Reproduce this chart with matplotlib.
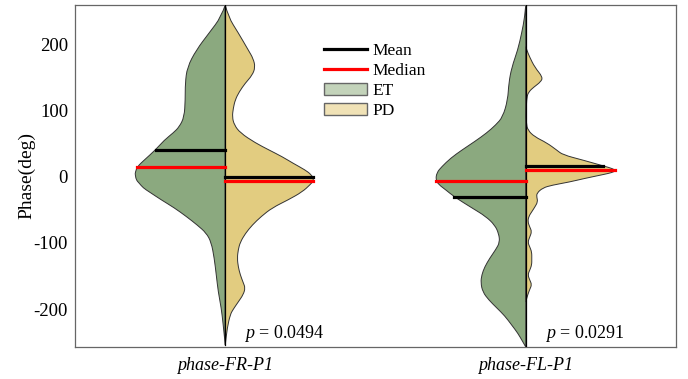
import numpy as np
import matplotlib
matplotlib.use("Agg")
import matplotlib.pyplot as plt
from matplotlib.lines import Line2D
from matplotlib.patches import Patch, PathPatch
from matplotlib.path import Path

plt.rcParams['font.family'] = ['Liberation Serif', 'DejaVu Serif']
plt.rcParams['mathtext.fontset'] = 'custom'
plt.rcParams['mathtext.it'] = 'Liberation Serif:italic'
plt.rcParams['mathtext.rm'] = 'Liberation Serif'

groups = ['phase-FR-P1', 'phase-FL-P1']
p_values = ['0.0494', '0.0291']

# half-violin outlines: phase (deg) and half width (px)
et1_phase = [259, 241, 217, 191, 165, 141, 116, 90, 75, 66, 55, 40, 25, 15, 6, 3,
             -5, -10, -17, -23, -35, -47, -60, -73, -85, -99, -123, -148, -174, -198, -224, -254]
et1_width = [0, 4, 16, 29, 38, 40, 40, 41, 46, 52, 61, 70, 81, 88, 90, 90,
             89, 86, 82, 76, 64, 51, 39, 28, 19, 14, 11, 9, 7, 4, 2, 0]

pd1_phase = [259, 241, 217, 191, 178, 165, 153, 141, 128, 116, 103, 90, 78, 66, 51, 40, 30,
             20, 10, 3, -5, -12, -23, -35, -47, -60, -73, -86, -99, -110, -123, -136, -148,
             -160, -168, -178, -189, -200, -208, -228, -254]
pd1_width = [0, 3, 13, 23, 28, 30, 27, 20, 14, 10, 8, 7, 9, 15, 30, 44, 57,
             68, 80, 86, 89, 85, 77, 63, 47, 36, 27, 20, 15, 13, 12, 13, 15,
             18, 20, 18, 13, 8, 5, 2, 0]

et2_phase = [259, 241, 217, 191, 165, 141, 116, 90, 78, 66, 53, 40, 28, 15, 6, -5, -12,
             -20, -31, -47, -60, -73, -86, -99, -110, -123, -136, -148, -160, -174, -186,
             -198, -210, -224, -236, -249, -257]
et2_width = [0, 1, 4, 8, 14, 17, 18, 23, 30, 39, 51, 64, 75, 84, 89, 90, 87,
             80, 71, 54, 40, 31, 27, 26, 30, 36, 41, 44, 45, 43, 37,
             29, 21, 14, 8, 3, 0]

pd2_phase = [196, 191, 180, 165, 150, 143, 135, 128, 120, 100, 81, 70, 60, 51, 40, 33, 25,
             16, 12, 9, 6, 3, -3, -8, -13, -17, -25, -31, -38, -46, -53, -60, -68, -76, -83,
             -91, -99, -106, -114, -124, -133, -141, -148, -156, -163, -170, -178, -189]
pd2_width = [0, 1, 4, 9, 17, 15, 8, 3, 1, 0.5, 0.5, 2, 9, 21, 31, 37, 57,
             78, 87, 90, 86, 77, 58, 44, 26, 17, 11, 11, 12, 9, 6, 3, 2, 4, 6,
             4, 2, 4, 6, 6, 6, 4, 2, 4, 6, 4, 2, 0]

et_mean = [40.7, -30.6]
et_median = [14.0, -6.0]
pd_mean = [-0.5, 16.5]
pd_median = [-6.5, 10.0]

et_color = '#8ba97f'
pd_color = '#e2cc80'
edge = '#333333'

px_per_unit = 300.5   # half-width pixels -> x data units
positions = [1, 2]


def smooth_half(ax, pos, phase, width, side, color):
    # outline through the read points, rounded with quadratic bezier segments
    y = np.asarray(phase, float)
    x = pos + side * np.asarray(width, float) / px_per_unit
    verts = [(pos, y[0]), (x[0], y[0])]
    codes = [Path.MOVETO, Path.LINETO]
    for k in range(1, len(y) - 1):
        mid = ((x[k] + x[k + 1]) / 2, (y[k] + y[k + 1]) / 2)
        verts += [(x[k], y[k]), mid]
        codes += [Path.CURVE3, Path.CURVE3]
    verts += [(x[-1], y[-1]), (pos, y[-1]), (pos, y[0])]
    codes += [Path.LINETO, Path.LINETO, Path.CLOSEPOLY]
    ax.add_patch(PathPatch(Path(verts, codes), facecolor=color, edgecolor=edge,
                           linewidth=0.7, zorder=2))


def half(v, p, ww):
    return np.interp(v, np.asarray(p, float)[::-1], np.asarray(ww, float)[::-1]) / px_per_unit


fig = plt.figure(figsize=(6.88, 3.79), dpi=100)
ax = fig.add_axes([0.109, 0.0844, 0.8736, 0.9026])

et_sets = [(et1_phase, et1_width), (et2_phase, et2_width)]
pd_sets = [(pd1_phase, pd1_width), (pd2_phase, pd2_width)]

for i, pos in enumerate(positions):
    ph, w = et_sets[i]
    ph2, w2 = pd_sets[i]
    smooth_half(ax, pos, ph, w, -1, et_color)
    smooth_half(ax, pos, ph2, w2, 1, pd_color)
    ax.plot([pos, pos], [min(ph), max(ph)], color='black', lw=0.9, zorder=3)

    # mean / median bars reach to the outline
    ax.plot([pos - half(et_mean[i], ph, w), pos], [et_mean[i]] * 2, color='black', lw=2.3, zorder=4)
    ax.plot([pos - half(et_median[i], ph, w), pos], [et_median[i]] * 2, color='red', lw=2.3, zorder=4)
    ax.plot([pos, pos + half(pd_mean[i], ph2, w2)], [pd_mean[i]] * 2, color='black', lw=2.3, zorder=4)
    ax.plot([pos, pos + half(pd_median[i], ph2, w2)], [pd_median[i]] * 2, color='red', lw=2.3, zorder=4)

    ax.text(pos + 0.063, -243, r'$\it{p}$' + ' = ' + p_values[i], fontsize=13,
            ha='left', va='baseline')

ax.set_xlim(0.5, 2.5)
ax.set_ylim(-257, 259)
ax.set_yticks([-200, -100, 0, 100, 200])
ax.set_yticklabels(['-200', '-100', '0', '100', '200'])
ax.set_xticks(positions)
ax.set_xticklabels(groups, fontstyle='italic')
ax.tick_params(length=0)
ax.tick_params(axis='y', pad=5, labelsize=13.5)
ax.tick_params(axis='x', pad=7, labelsize=13)
ax.set_ylabel('Phase(deg)', fontsize=14, labelpad=-1)
for s in ax.spines.values():
    s.set_color('#666666')
    s.set_linewidth(0.9)

handles = [Line2D([], [], color='black', lw=2.3),
           Line2D([], [], color='red', lw=2.3),
           Patch(facecolor='#c3d3ba', edgecolor='#666666'),
           Patch(facecolor='#f0e2b6', edgecolor='#666666')]
ax.legend(handles, ['Mean', 'Median', 'ET', 'PD'], loc='upper left',
          bbox_to_anchor=(0.408, 0.898), frameon=False, fontsize=12.5,
          handlelength=2.5, handletextpad=0.3, labelspacing=0.22,
          borderpad=0.2, borderaxespad=0.0)

plt.savefig('out.png', dpi=100)
